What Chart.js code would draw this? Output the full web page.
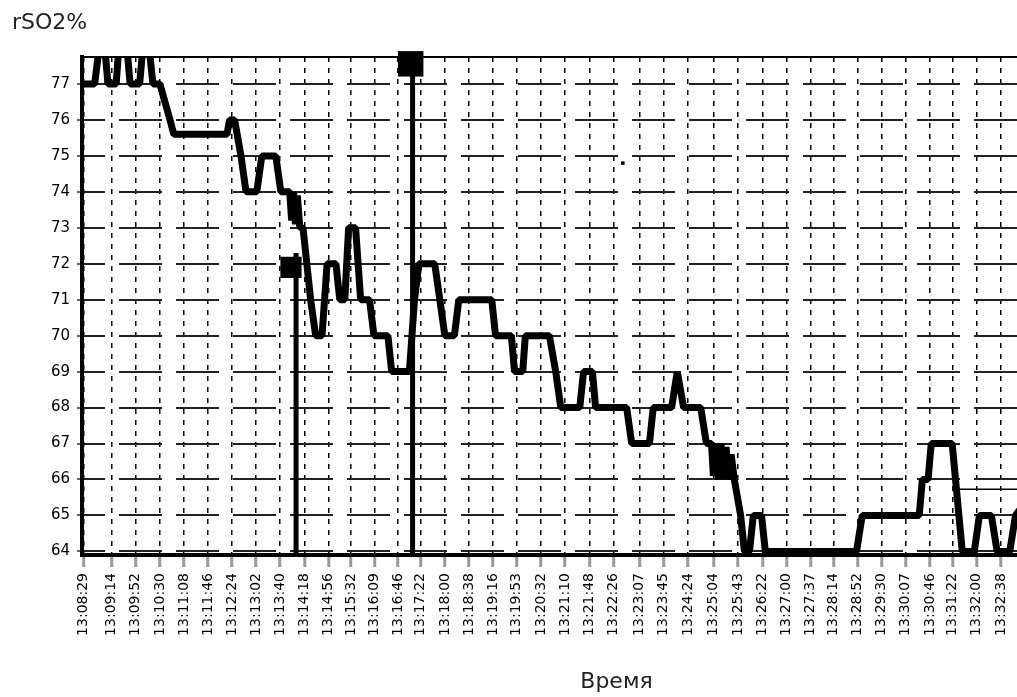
<!DOCTYPE html>
<html>
<head>
<meta charset="utf-8">
<script src="https://cdn.jsdelivr.net/npm/chart.js@4.4.1/dist/chart.umd.min.js"></script>
<style>
  html, body { margin: 0; padding: 0; background: #fff; overflow: hidden; }
  #wrap { position: absolute; left: 0; top: 0; width: 1169px; height: 697px; }
</style>
</head>
<body>
<div id="wrap"><canvas id="chart"></canvas></div>
<script>
// подписи оси времени
const xTickLabels = [
    '13:08:29', '13:09:14', '13:09:52', '13:10:30', '13:11:08', '13:11:46', '13:12:24',
    '13:13:02', '13:13:40', '13:14:18', '13:14:56', '13:15:32', '13:16:09', '13:16:46',
    '13:17:22', '13:18:00', '13:18:38', '13:19:16', '13:19:53', '13:20:32', '13:21:10',
    '13:21:48', '13:22:26', '13:23:07', '13:23:45', '13:24:24', '13:25:04', '13:25:43',
    '13:26:22', '13:27:00', '13:27:37', '13:28:14', '13:28:52', '13:29:30', '13:30:07',
    '13:30:46', '13:31:22', '13:32:00', '13:32:38'
];
const yTickValues = [64, 65, 66, 67, 68, 69, 70, 71, 72, 73, 74, 75, 76, 77];

// тренд rSO2%
const trendTimes = [
    '13:08:27', '13:08:47', '13:08:54', '13:09:03', '13:09:08', '13:09:21', '13:09:25',
    '13:09:38', '13:09:43', '13:09:58', '13:10:03', '13:10:13', '13:10:19', '13:10:30',
    '13:10:38', '13:10:46', '13:10:52', '13:12:16', '13:12:20', '13:12:28', '13:12:38',
    '13:12:46', '13:13:03', '13:13:11', '13:13:33', '13:13:41', '13:13:55', '13:13:58',
    '13:14:01', '13:14:04', '13:14:07', '13:14:11', '13:14:16', '13:14:22', '13:14:28',
    '13:14:36', '13:14:46', '13:14:54', '13:15:08', '13:15:14', '13:15:22', '13:15:28',
    '13:15:39', '13:15:47', '13:16:01', '13:16:08', '13:16:30', '13:16:36', '13:17:04',
    '13:17:12', '13:17:19', '13:17:44', '13:17:52', '13:18:00', '13:18:15', '13:18:22',
    '13:19:14', '13:19:20', '13:19:45', '13:19:50', '13:20:03', '13:20:07', '13:20:45',
    '13:20:55', '13:21:03', '13:21:33', '13:21:39', '13:21:53', '13:21:58', '13:22:47',
    '13:22:55', '13:23:23', '13:23:29', '13:23:58', '13:24:07', '13:24:17', '13:24:44',
    '13:24:53', '13:25:01', '13:25:04', '13:25:08', '13:25:12', '13:25:16', '13:25:20',
    '13:25:24', '13:25:28', '13:25:32', '13:25:37', '13:25:47', '13:25:53', '13:26:01',
    '13:26:07', '13:26:20', '13:26:26', '13:28:50', '13:28:59', '13:30:29', '13:30:34',
    '13:30:43', '13:30:48', '13:31:21', '13:31:37', '13:31:56', '13:32:04', '13:32:23',
    '13:32:32', '13:32:52', '13:33:01', '13:33:14'
];
const trendValues = [
    77, 77, 78, 78, 77, 77, 78,
    78, 77, 77, 78, 78, 77, 77,
    76.5, 76, 75.6, 75.6, 76, 76, 75,
    74, 74, 75, 75, 74, 74, 73.2,
    74, 73.1, 73.9, 73, 73, 72, 71,
    70, 70, 72, 72, 71, 71, 73,
    73, 71, 71, 70, 70, 69, 69,
    71, 72, 72, 71, 70, 70, 71,
    71, 70, 70, 69, 69, 70, 70,
    69, 68, 68, 69, 69, 68, 68,
    67, 67, 68, 68, 69, 68, 68,
    67, 67, 66.1, 67, 66, 67, 66,
    66.9, 66, 66.7, 66, 65, 64, 64,
    65, 65, 64, 64, 65, 65, 66,
    66, 67, 67, 64, 64, 65, 65,
    64, 64, 65, 65.3
];

// события (вертикальные метки)
const eventTimes = ['13:14:05', '13:17:09'];
const eventTops = [72.3, 77.56];
const markerTimes = ['13:13:57', '13:17:06'];
const markerValues = [71.9, 77.56];

// тонкая линия справа и точка
const refTimes = ['13:31:28', '13:36:40'];
const refValues = [65.73, 65.73];
const dotTimes = ['13:22:41'];
const dotValues = [74.8];

const yMin = 63.9, yMax = 77.75;

function toSec(s) {
    const p = s.split(':').map(Number);
    return p[0] * 3600 + p[1] * 60 + p[2];
}
const xMin = toSec('13:08:27');
const xMax = toSec('13:36:35');

function pts(times, values) {
    return times.map((t, i) => ({x: toSec(t), y: values[i]}));
}

const eventSets = eventTimes.map((t, i) => ({
    data: [{x: toSec(t), y: eventTops[i]}, {x: toSec(t), y: yMin}],
    borderColor: '#000',
    borderWidth: 5,
    pointRadius: 0,
    clip: 0
}));

const ctx = document.getElementById('chart').getContext('2d');
const chart = new Chart(ctx, {
    type: 'line',
    data: {
        datasets: [
            {
                data: pts(trendTimes, trendValues),
                borderColor: '#000',
                borderWidth: 7,
                borderJoinStyle: 'bevel',
                borderCapStyle: 'butt',
                pointRadius: 0,
                tension: 0,
                clip: 0
            },
            ...eventSets,
            {
                data: pts(markerTimes, markerValues),
                showLine: false,
                pointStyle: 'rect',
                pointRadius: [15, 18],
                backgroundColor: '#000',
                borderColor: '#000',
                borderWidth: 0,
                clip: false
            },
            {
                data: pts(refTimes, refValues),
                borderColor: '#000',
                borderWidth: 1.5,
                pointRadius: 0,
                clip: 0
            },
            {
                data: pts(dotTimes, dotValues),
                showLine: false,
                pointStyle: 'rect',
                pointRadius: 2.5,
                backgroundColor: '#000',
                borderWidth: 0
            }
        ]
    },
    options: {
        responsive: true,
        maintainAspectRatio: false,
        animation: false,
        layout: {padding: {left: 12, right: 0, top: 0, bottom: 0}},
        plugins: {
            legend: {display: false},
            tooltip: {enabled: false},
            title: {
                display: true,
                text: 'rSO2%',
                align: 'start',
                color: '#222',
                font: {family: 'DejaVu Sans', size: 22, weight: 'normal'},
                padding: {top: 10, bottom: 0}
            }
        },
        scales: {
            x: {
                type: 'linear',
                position: 'bottom',
                min: xMin,
                max: xMax,
                afterBuildTicks: function(scale) {
                    scale.ticks = xTickLabels.map(s => ({value: toSec(s)}));
                },
                afterFit: function(scale) {
                    scale.height = 142;
                },
                ticks: {
                    autoSkip: false,
                    minRotation: 90,
                    maxRotation: 90,
                    padding: 6,
                    color: '#000',
                    font: {family: 'DejaVu Sans', size: 14},
                    callback: function(value, index) {
                        return xTickLabels[index];
                    }
                },
                grid: {
                    color: '#000',
                    lineWidth: 1.5,
                    drawTicks: true,
                    tickLength: 12,
                    tickColor: '#999',
                    tickWidth: 3,
                    tickBorderDash: []
                },
                border: {display: true, color: '#000', width: 4, dash: [5, 6]},
                title: {
                    display: true,
                    text: 'Время',
                    color: '#222',
                    font: {family: 'DejaVu Sans', size: 22},
                    padding: {top: 0, bottom: 2}
                }
            },
            x2: {
                type: 'linear',
                position: 'top',
                min: xMin,
                max: xMax,
                afterFit: function(scale) {
                    scale.height = 20.6;
                },
                ticks: {display: false},
                grid: {display: false, drawTicks: false},
                border: {display: true, color: '#000', width: 2}
            },
            y: {
                type: 'linear',
                min: yMin,
                max: yMax,
                afterBuildTicks: function(scale) {
                    scale.ticks = yTickValues.map(v => ({value: v}));
                },
                afterFit: function(scale) {
                    scale.width = 70;
                },
                ticks: {
                    padding: 7,
                    color: '#000',
                    font: {family: 'DejaVu Sans', size: 15}
                },
                grid: {
                    color: '#222',
                    lineWidth: 2,
                    tickLength: 5,
                    tickColor: '#666',
                    tickWidth: 2,
                    tickBorderDash: []
                },
                border: {display: true, color: '#000', width: 4, dash: [43, 14], dashOffset: 22}
            }
        }
    }
});
</script>
</body>
</html>
